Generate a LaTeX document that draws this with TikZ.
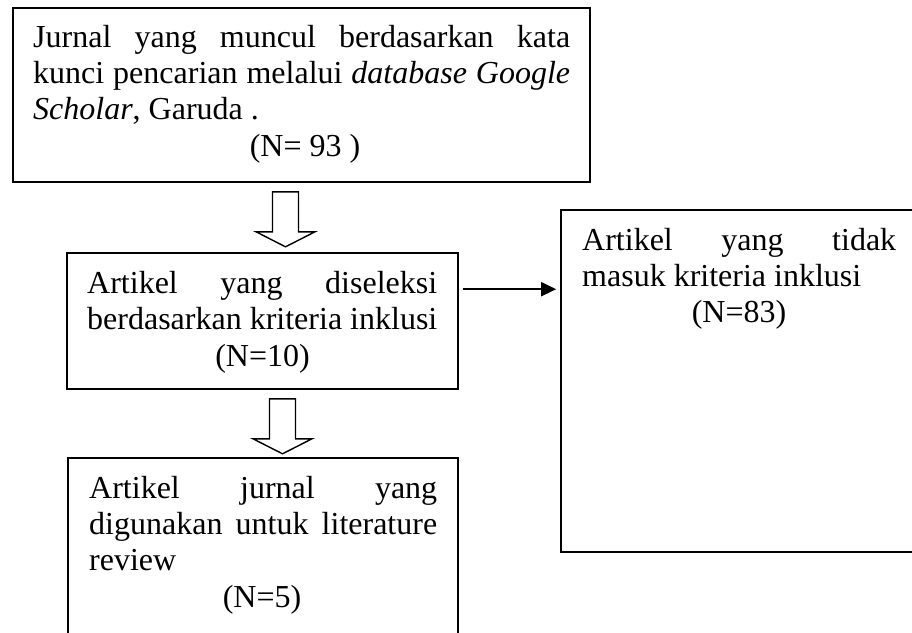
\documentclass[tikz,border=0pt]{standalone}
\usepackage{fontspec}
\setmainfont{Liberation Serif}
\usetikzlibrary{arrows.meta,calc}
\newcommand\fs{\fontsize{32}{36}\selectfont}
\tikzset{
  boxframe/.style={draw=black, line width=1.6pt, inner sep=0pt, rectangle},
  txt/.style={inner sep=0pt, anchor=base west, font=\fs},
  txtc/.style={inner sep=0pt, anchor=base, font=\fs},
  hollow/.pic={\draw[line width=1.4pt, line join=miter]
     (-13,0) -- (13,0) -- (13,40) -- (29.5,40) -- (0,55) -- (-29.5,40) -- (-13,40) -- cycle;},
  flowarrow/.style={line width=1.6pt, -{Triangle[length=15pt,width=14pt]}}
}
\begin{document}
\begin{tikzpicture}[x=1pt,y=-1pt]
\useasboundingbox (0,0) rectangle (912,632);
% boxes
\node[boxframe, minimum width=577pt, minimum height=174pt] (b1) at (301.5,95) {};
\node[boxframe, minimum width=391pt, minimum height=136pt] (b2) at (262.5,321) {};
\node[boxframe, minimum width=390pt, minimum height=202pt] (b3) at (263,559) {};
\node[boxframe, minimum width=369pt, minimum height=342pt] (b4) at (745.5,381) {};
% box 1 text
\node[txt] (t1a) at (33,47) {\makebox[537pt][s]{Jurnal yang muncul berdasarkan kata}};
\node[txt] (t1b) at (33,83) {\makebox[537pt][s]{kunci pencarian melalui \textit{database Google}}};
\node[txt] (t1c) at (33,119) {\textit{Scholar}, Garuda .};
\node[txtc] (t1d) at (305,156) {(N= 93 )};
% box 2 text
\node[txt] (t2a) at (87,293) {\makebox[350pt][s]{Artikel yang diseleksi}};
\node[txt] (t2b) at (87,329) {berdasarkan kriteria inklusi};
\node[txtc] (t2c) at (262.5,366) {(N=10)};
% box 3 text
\node[txt] (t3a) at (89,498) {\makebox[348pt][s]{Artikel jurnal yang}};
\node[txt] (t3b) at (89,534) {\makebox[348pt][s]{digunakan untuk literature}};
\node[txt] (t3c) at (89,570) {review};
\node[txtc] (t3d) at (262,607) {(N=5)};
% box 4 text
\node[txt] (t4a) at (582,250) {\makebox[314pt][s]{Artikel yang tidak}};
\node[txt] (t4b) at (582,286) {masuk kriteria inklusi};
\node[txtc] (t4c) at (739,322) {(N=83)};
% connectors
\pic at ($(b1.south)+(-16,9)$) {hollow};
\pic at ($(b2.south)+(20,9)$) {hollow};
\draw[flowarrow] ($(b2.north east)+(4,37)$) -- ($(b4.north west)+(-4,80)$);
\end{tikzpicture}
\end{document}
